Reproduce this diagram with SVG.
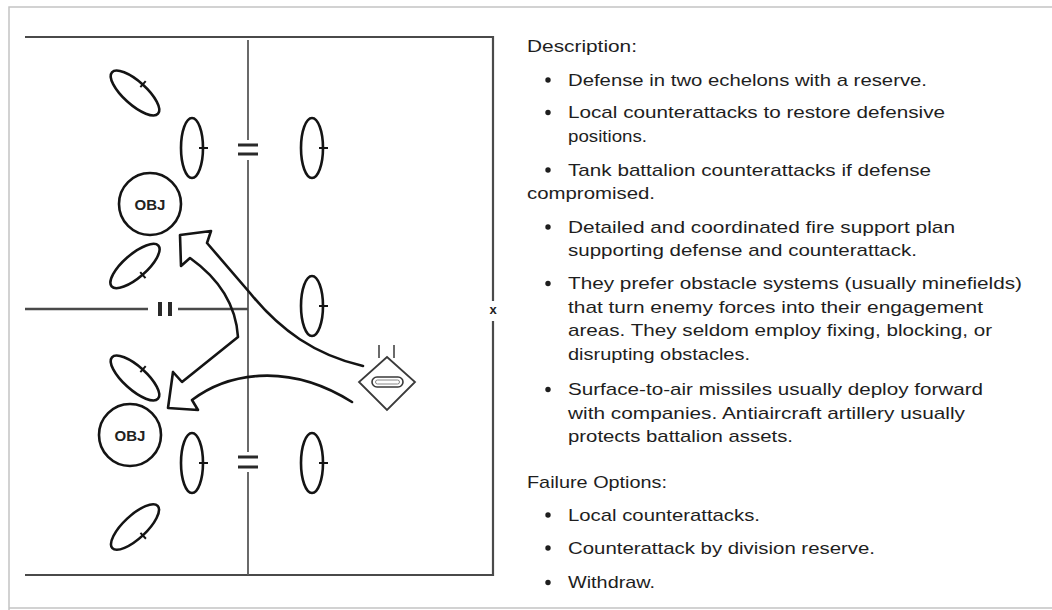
<svg xmlns="http://www.w3.org/2000/svg" width="1052" height="610" viewBox="0 0 1052 610">
<defs>
<style>
.frame{fill:none;stroke:#c4c4c4;stroke-width:1.5}
.box{fill:none;stroke:#4a4a4a;stroke-width:2.2}
.thin{fill:none;stroke:#5a5a5a;stroke-width:1.8}
.unit{fill:none;stroke:#141414;stroke-width:2.6}
.tick{stroke:#141414;stroke-width:2}
.bar{stroke:#2a2a2a;stroke-width:3}
.arrow{fill:none;stroke:#141414;stroke-width:2.6;stroke-linejoin:round;stroke-linecap:round}
.sym{fill:none;stroke:#3a3a3a;stroke-width:1.8}
.obj{font-family:"Liberation Sans",Arial,sans-serif;font-weight:bold;font-size:15px;fill:#222;text-anchor:middle}
.t{font-family:"Liberation Sans",Arial,sans-serif;font-size:17px;fill:#1e1e1e}
.bul{fill:#1e1e1e}
</style>
</defs>
<rect width="1052" height="610" fill="#ffffff"/>
<path class="frame" d="M9,610 L9,7 L1052,7 M9,608 L1052,608"/>

<g id="boundaries">
<path class="box" d="M25,37 L493,37 L493,301 M493,321 L493,575 L25,575"/>
<text x="493" y="314" class="obj" style="font-size:13px">x</text>
<path class="thin" d="M248,40 L248,140 M248,160 L248,452 M248,472 L248,575"/>
<path class="bar" d="M238,145 L258,145 M238,154 L258,154 M238,457 L258,457 M238,467 L258,467"/>
<path class="box" style="stroke-width:2.5" d="M25,309 L148,309 M178,309 L248,309"/>
<path class="bar" style="stroke-width:4" d="M160,302 L160,316 M170,302 L170,316"/>
</g>

<g id="unit-1" transform="translate(135,93) rotate(42)"><ellipse class="unit" rx="31" ry="11.5"/><line class="tick" x1="0" y1="-16" x2="0" y2="-8"/></g>
<g id="unit-2" transform="translate(192,148)"><ellipse class="unit" rx="11" ry="30"/><line class="tick" x1="7" y1="0" x2="16" y2="0"/></g>
<g id="unit-3" transform="translate(312,148)"><ellipse class="unit" rx="11" ry="30"/><line class="tick" x1="7" y1="0" x2="16" y2="0"/></g>
<g id="obj-1"><circle class="unit" cx="150" cy="204" r="31"/><text x="150" y="209.5" class="obj">OBJ</text></g>
<g id="unit-4" transform="translate(135,266) rotate(-41)"><ellipse class="unit" rx="31" ry="11.5"/><line class="tick" x1="0" y1="8" x2="0" y2="16"/></g>
<g id="unit-5" transform="translate(312,306)"><ellipse class="unit" rx="11" ry="30"/><line class="tick" x1="7" y1="0" x2="16" y2="0"/></g>
<g id="unit-6" transform="translate(135,378) rotate(42)"><ellipse class="unit" rx="31" ry="11.5"/><line class="tick" x1="0" y1="-16" x2="0" y2="-8"/></g>
<g id="obj-2"><circle class="unit" cx="130" cy="435" r="31"/><text x="130" y="440.5" class="obj">OBJ</text></g>
<g id="unit-7" transform="translate(192,463)"><ellipse class="unit" rx="11" ry="30"/><line class="tick" x1="7" y1="0" x2="16" y2="0"/></g>
<g id="unit-8" transform="translate(312,463)"><ellipse class="unit" rx="11" ry="30"/><line class="tick" x1="7" y1="0" x2="16" y2="0"/></g>
<g id="unit-9" transform="translate(135,527) rotate(-43)"><ellipse class="unit" rx="31" ry="11.5"/><line class="tick" x1="0" y1="8" x2="0" y2="16"/></g>

<g id="reserve">
<path class="sym" d="M387,357 L415,382 L387,410 L359,382 Z"/>
<rect class="sym" x="372" y="377" width="31" height="10" rx="5" style="stroke-width:1.6"/>
<rect class="sym" x="375.5" y="380" width="24" height="4" rx="2" style="stroke-width:1;stroke:#888"/>
<path class="sym" style="stroke-width:1.5" d="M379,345 L379,358 M394,345 L394,358"/>
</g>

<g id="connectors">
<path class="arrow" d="M363,366 C315,355 280,330 250,293 L207,243 L211,231 L180,235 L181,266 L190,258 Q235,290 238,337 L182,382 L173,372 L168,408 L198,410 L192,400 C225,375 285,360 352,402"/>
</g>

<g id="description">
<text class="t" x="527" y="52" textLength="110" lengthAdjust="spacingAndGlyphs">Description:</text>
<circle class="bul" cx="548" cy="80" r="2.7"/>
<text class="t" x="568" y="85.5" textLength="359" lengthAdjust="spacingAndGlyphs">Defense in two echelons with a reserve.</text>
<circle class="bul" cx="548" cy="112.5" r="2.7"/>
<text class="t" x="568" y="118" textLength="377" lengthAdjust="spacingAndGlyphs">Local counterattacks to restore defensive</text>
<text class="t" x="568" y="142" textLength="79" lengthAdjust="spacingAndGlyphs">positions.</text>
<circle class="bul" cx="548" cy="170" r="2.7"/>
<text class="t" x="568" y="175.5" textLength="363" lengthAdjust="spacingAndGlyphs">Tank battalion counterattacks if defense</text>
<text class="t" x="527" y="199" textLength="128" lengthAdjust="spacingAndGlyphs">compromised.</text>
<circle class="bul" cx="548" cy="227" r="2.7"/>
<text class="t" x="568" y="232.5" textLength="387" lengthAdjust="spacingAndGlyphs">Detailed and coordinated fire support plan</text>
<text class="t" x="568" y="256" textLength="349" lengthAdjust="spacingAndGlyphs">supporting defense and counterattack.</text>
<circle class="bul" cx="548" cy="283.5" r="2.7"/>
<text class="t" x="568" y="289" textLength="454" lengthAdjust="spacingAndGlyphs">They prefer obstacle systems (usually minefields)</text>
<text class="t" x="568" y="312.5" textLength="415" lengthAdjust="spacingAndGlyphs">that turn enemy forces into their engagement</text>
<text class="t" x="568" y="336" textLength="424" lengthAdjust="spacingAndGlyphs">areas. They seldom employ fixing, blocking, or</text>
<text class="t" x="568" y="359.5" textLength="182" lengthAdjust="spacingAndGlyphs">disrupting obstacles.</text>
<circle class="bul" cx="548" cy="389.5" r="2.7"/>
<text class="t" x="568" y="395" textLength="415" lengthAdjust="spacingAndGlyphs">Surface-to-air missiles usually deploy forward</text>
<text class="t" x="568" y="418.5" textLength="397" lengthAdjust="spacingAndGlyphs">with companies. Antiaircraft artillery usually</text>
<text class="t" x="568" y="442" textLength="225" lengthAdjust="spacingAndGlyphs">protects battalion assets.</text>
</g>

<g id="failure-options">
<text class="t" x="527" y="487.5" textLength="140" lengthAdjust="spacingAndGlyphs">Failure Options:</text>
<circle class="bul" cx="548" cy="515" r="2.7"/>
<text class="t" x="568" y="520.5" textLength="192" lengthAdjust="spacingAndGlyphs">Local counterattacks.</text>
<circle class="bul" cx="548" cy="548" r="2.7"/>
<text class="t" x="568" y="553.5" textLength="307" lengthAdjust="spacingAndGlyphs">Counterattack by division reserve.</text>
<circle class="bul" cx="548" cy="582.5" r="2.7"/>
<text class="t" x="568" y="588" textLength="87" lengthAdjust="spacingAndGlyphs">Withdraw.</text>
</g>
</svg>
